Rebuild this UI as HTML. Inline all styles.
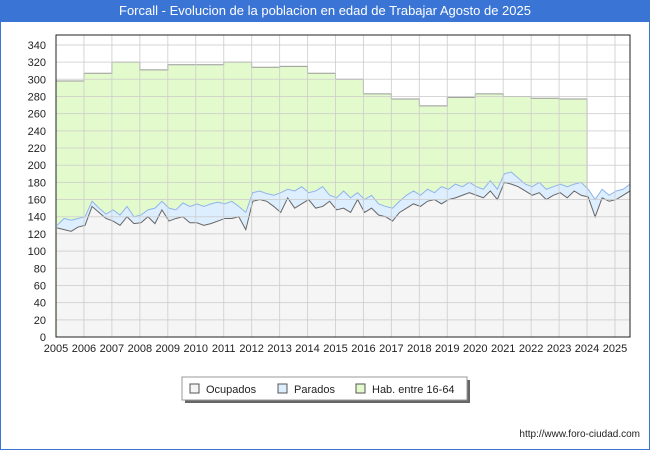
<!DOCTYPE html>
<html><head><meta charset="utf-8"><style>
body{margin:0;background:#fff;font-family:"Liberation Sans","DejaVu Sans",sans-serif}
#wrap{position:relative;width:650px;height:450px;overflow:hidden;background:#fff}
#title{position:absolute;left:0;top:0;width:650px;height:22px;background:#3a75d6;color:#fff;font-size:13px;line-height:22px;text-align:center}
#frame{position:absolute;left:0;top:22px;width:648px;height:427px;border:1px solid #3a75d6;border-top:none}
</style></head><body>
<div id="wrap">
<div id="frame"></div>
<div id="title">Forcall - Evolucion de la poblacion en edad de Trabajar Agosto de 2025</div>
<svg id="svg" width="650" height="450" style="position:absolute;left:0;top:0"></svg>
</div>
<script>
const years=[2005,2006,2007,2008,2009,2010,2011,2012,2013,2014,2015,2016,2017,2018,2019,2020,2021,2022,2023,2024,2025];
const habValues=[298,307,320,311,317,317,320,314,315,307,300,283,277,269,279,283,280,278,277];
const ocupados=[127,125,123,128,130,152,145,138,135,130,140,132,133,140,132,148,135,138,140,133,133,130,132,135,138,138,140,125,158,160,158,152,145,162,150,155,160,150,152,158,148,150,145,160,145,150,142,140,135,145,150,155,152,158,160,155,160,162,165,168,165,162,170,160,180,178,175,170,165,168,160,165,168,162,170,165,163,140,162,158,160,165,170];
const parados=[3,13,13,10,10,6,5,5,13,12,12,8,9,8,18,10,15,10,16,19,22,22,23,22,17,20,12,20,10,10,9,13,23,10,20,20,8,20,23,7,14,20,17,8,15,15,13,12,15,13,15,15,13,14,8,20,12,16,10,12,10,10,12,12,10,14,10,8,10,12,12,10,10,13,8,15,9,20,10,7,10,7,8];
const yTicks=[0,20,40,60,80,100,120,140,160,180,200,220,240,260,280,300,320,340];
const L=56,R=630,T=35,B=337;
const xS=v=>L+(v-2005)*27.95;
const yS=v=>B-v*0.859;
const svg=document.getElementById('svg');const NS='http://www.w3.org/2000/svg';
function mk(t,a,p){const e=document.createElementNS(NS,t);for(const k in a)e.setAttribute(k,a[k]);(p||svg).appendChild(e);return e;}
const bg=mk('rect',{x:L,y:T,width:R-L,height:B-T,fill:'#fff'});


const tx=i=>2005+i/4+0.04;
// hab area
let hp='M'+xS(2005)+','+yS(0);
habValues.forEach((v,i)=>{hp+=' L'+xS(years[i])+','+yS(v)+' L'+xS(years[i]+1)+','+yS(v);});
hp+=' L'+xS(2024)+','+yS(ocupados[76]+parados[76])+' L'+xS(2024)+','+yS(0)+'Z';
const ha=mk('path',{d:hp,fill:'#e3fbcc',stroke:'#999','stroke-width':1});


function series(vals,fill,stroke,name){
 let d='M'+xS(tx(0))+','+yS(0);let line='';
 vals.forEach((v,i)=>{d+=' L'+xS(tx(i))+','+yS(v);line+=(i?' L':'M')+xS(tx(i))+','+yS(v);});
 d+=' L'+xS(tx(vals.length-1))+','+yS(0)+'Z';
 const a=mk('path',{d:d,fill:fill});
 
 
 const l=mk('path',{d:line,fill:'none',stroke:stroke,'stroke-width':1});
 
 
}
series(ocupados.map((o,i)=>o+parados[i]),'#ddeeff','#8fb4ec','parados');
series(ocupados,'#f5f5f5','#666','ocupados');
// grid
yTicks.forEach(v=>{const g=mk('line',{x1:L,x2:R,y1:yS(v),y2:yS(v),stroke:'#ccc','stroke-width':1,'stroke-opacity':0.8});

const t=mk('text',{x:L-10,y:yS(v)+4,'font-size':11,'text-anchor':'end',fill:'#222'});t.textContent=v;
});
years.forEach(y=>{const g=mk('line',{x1:xS(y),x2:xS(y),y1:T,y2:B,stroke:'#ccc','stroke-width':1,'stroke-opacity':0.8});

const t=mk('text',{x:xS(y),y:B+15,'font-size':11,'text-anchor':'middle',fill:'#222'});t.textContent=y;
});
const fr=mk('rect',{x:L,y:T,width:R-L,height:B-T,fill:'none',stroke:'#222','stroke-width':1});

// legend
const lg=mk('g',{});
mk('rect',{x:185,y:380,width:285,height:23,fill:'#666'},lg);
mk('rect',{x:182,y:377,width:285,height:23,fill:'#fff',stroke:'#999'},lg);
[['Ocupados','#f5f5f5',190],['Parados','#ddeeff',278],['Hab. entre 16-64','#e3fbcc',356]].forEach(e=>{
 const g=mk('g',{},lg);
 mk('rect',{x:e[2],y:384,width:9,height:9,fill:e[1],stroke:'#555'},g);
 const t=mk('text',{x:e[2]+16,y:393,'font-size':11,fill:'#222'},g);t.textContent=e[0];});
const u=mk('text',{x:640,y:437,'font-size':10,'text-anchor':'end',fill:'#222'});u.textContent='http://www.foro-ciudad.com';

</script>
</body></html>
